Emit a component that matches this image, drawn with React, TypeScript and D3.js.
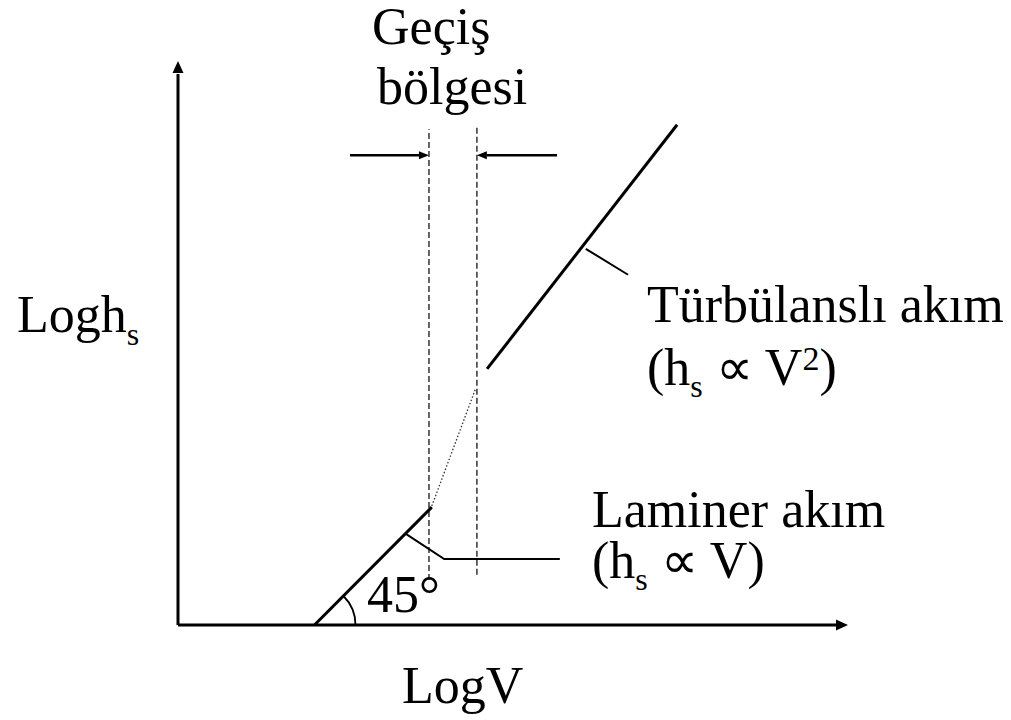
import React from "react";
import * as d3 from "d3";

// Log–log sketch of head loss vs. velocity: laminar (slope 1), transition, turbulent.
type Pt = [number, number];

const X_MAX = 11.88; // LogV axis extent
const Y_MAX = 10; // Logh_s axis extent

const laminarLine: Pt[] = [[2.42, 0], [4.5, 2.09]];
const transitionLine: Pt[] = [[4.5, 2.11], [5.28, 4.2]];
const turbulentLine: Pt[] = [[5.48, 4.54], [8.85, 8.87]];

const zoneBounds: { x: number; y0: number; y1: number }[] = [
  { x: 4.45, y0: 0.8, y1: 8.79 },
  { x: 5.3, y0: 0.89, y1: 8.87 },
];
const zoneArrows: { from: Pt; to: Pt }[] = [
  { from: [3.05, 8.33], to: [4.45, 8.33] },
  { from: [6.72, 8.33], to: [5.3, 8.33] },
];
const turbulentLeader: Pt[] = [[7.23, 6.67], [7.98, 6.21]];
const laminarLeader: Pt[] = [[4.02, 1.63], [4.72, 1.17], [6.77, 1.17]];
const angleDeg = 45;

const W = 1011;
const H = 720;
const FONT = "'Liberation Serif', 'Times New Roman', serif";
const FS = 52;

export default function App() {
  const x = d3.scaleLinear().domain([0, X_MAX]).range([178, 848]);
  const y = d3.scaleLinear().domain([0, Y_MAX]).range([625, 61]);
  const line = d3
    .line<Pt>()
    .x((d) => x(d[0]))
    .y((d) => y(d[1]));

  // arrowhead polygon pointing from `from` to `to`, tip at `to`
  const head = (from: Pt, to: Pt, len: number, half: number) => {
    const x0 = x(from[0]), y0 = y(from[1]);
    const x1 = x(to[0]), y1 = y(to[1]);
    const dx = x1 - x0, dy = y1 - y0;
    const L = Math.hypot(dx, dy);
    const ux = dx / L, uy = dy / L;
    const bx = x1 - ux * len, by = y1 - uy * len;
    const pts = [
      [x1, y1],
      [bx - uy * half, by + ux * half],
      [bx + uy * half, by - ux * half],
    ];
    return { points: pts.map((p) => p.join(",")).join(" "), base: [bx, by] };
  };

  const yAxisHead = head([0, 0], [0, Y_MAX], 12, 5.5);
  const xAxisHead = head([0, 0], [X_MAX, 0], 12, 5.5);

  const arcPath = d3.path();
  const ax = x(laminarLine[0][0]);
  const ay = y(laminarLine[0][1]);
  arcPath.arc(ax, ay, 41, (-angleDeg * Math.PI) / 180, 0);

  return (
    <svg
      width={W}
      height={H}
      style={{ position: "absolute", left: 0, top: 0, background: "#fff" }}
      fontFamily={FONT}
    >
      <rect width={W} height={H} fill="#fff" />

      {/* axes */}
      <line x1={x(0)} y1={y(0)} x2={x(0)} y2={yAxisHead.base[1] + 1} stroke="#000" strokeWidth={3} />
      <polygon points={yAxisHead.points} fill="#000" />
      <line x1={x(0)} y1={y(0)} x2={xAxisHead.base[0] + 1} y2={y(0)} stroke="#000" strokeWidth={3} />
      <polygon points={xAxisHead.points} fill="#000" />

      {/* transition zone bounds */}
      {zoneBounds.map((b, i) => (
        <line
          key={i}
          x1={x(b.x)}
          x2={x(b.x)}
          y1={y(b.y0)}
          y2={y(b.y1)}
          stroke="#333"
          strokeWidth={1.5}
          strokeDasharray="6,3"
        />
      ))}
      {zoneArrows.map((a, i) => {
        const h = head(a.from, a.to, 10, 4);
        return (
          <g key={i}>
            <line
              x1={x(a.from[0])}
              y1={y(a.from[1])}
              x2={h.base[0]}
              y2={h.base[1]}
              stroke="#000"
              strokeWidth={2.5}
            />
            <polygon points={h.points} fill="#000" />
          </g>
        );
      })}

      {/* curves */}
      <path d={line(laminarLine) ?? ""} stroke="#000" strokeWidth={3} fill="none" />
      <path
        d={line(transitionLine) ?? ""}
        stroke="#333"
        strokeWidth={1.3}
        strokeDasharray="1.5,2"
        fill="none"
      />
      <path d={line(turbulentLine) ?? ""} stroke="#000" strokeWidth={3} fill="none" />

      {/* leaders */}
      <path d={line(turbulentLeader) ?? ""} stroke="#000" strokeWidth={2} fill="none" />
      <path d={line(laminarLeader) ?? ""} stroke="#000" strokeWidth={2} fill="none" />

      {/* 45° angle arc */}
      <path d={arcPath.toString()} stroke="#000" strokeWidth={1.8} fill="none" />

      {/* labels */}
      <g fontSize={FS} fill="#000">
        <text x={372} y={44}>Geçiş</text>
        <text x={377} y={104}>bölgesi</text>
        <text x={17} y={332}>
          Logh<tspan fontSize={32} dy={13}>s</tspan>
        </text>
        <text x={402} y={703}>LogV</text>
        <text x={647} y={322}>Türbülanslı akım</text>
        <text x={647} y={385}>
          (h<tspan fontSize={32} dy={12}>s</tspan>
          <tspan dy={-12}> ∝ V</tspan>
          <tspan fontSize={34} dy={-15}>2</tspan>
          <tspan dy={15}>)</tspan>
        </text>
        <text x={592} y={527}>Laminer akım</text>
        <text x={592} y={578}>
          (h<tspan fontSize={32} dy={12}>s</tspan>
          <tspan dy={-12}> ∝ V)</tspan>
        </text>
        <text x={367} y={612}>
          {angleDeg}°
        </text>
      </g>
    </svg>
  );
}
